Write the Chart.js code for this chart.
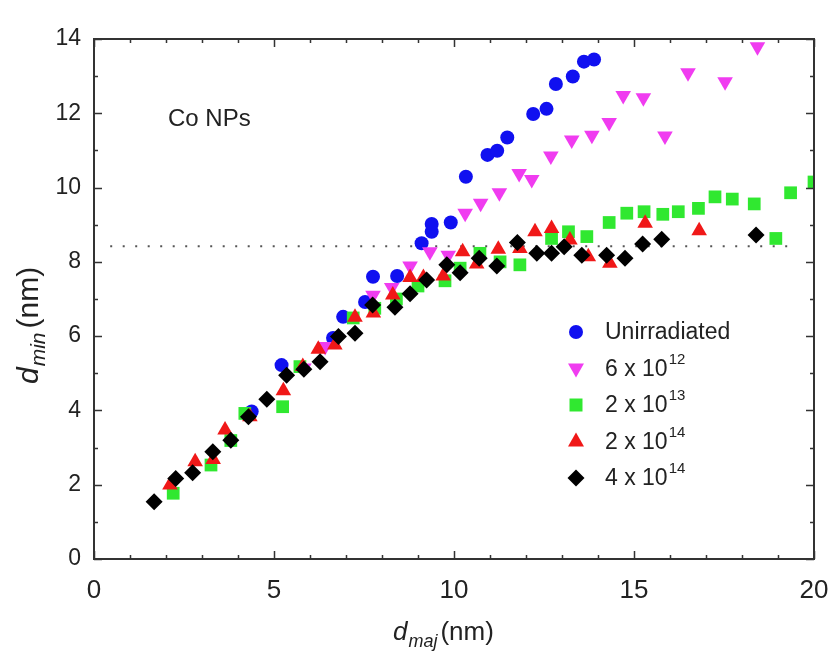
<!DOCTYPE html>
<html>
<head>
<meta charset="utf-8">
<script src="https://cdn.jsdelivr.net/npm/chart.js@4/dist/chart.umd.min.js"></script>
<style>
  body { margin: 0; background: #fff; }
  canvas { display: block; }
</style>
</head>
<body>
<canvas id="size-chart" width="829" height="667"></canvas>
<script>
// d_maj / d_min pairs (nm) for each fluence
const unirrX = [4.38, 5.21, 6.64, 6.92, 7.53, 7.75, 8.42, 9.1, 9.38, 9.38, 9.91, 10.33, 10.93, 11.2, 11.48, 12.2, 12.57, 12.83, 13.3, 13.61, 13.89];
const unirrY = [3.97, 5.22, 5.95, 6.52, 6.92, 7.6, 7.62, 8.5, 8.81, 9.02, 9.06, 10.29, 10.88, 10.99, 11.35, 11.98, 12.12, 12.79, 12.99, 13.39, 13.45];

const f6e12X = [5.83, 6.42, 7.75, 8.27, 8.78, 9.33, 9.84, 10.31, 10.74, 11.26, 11.81, 12.16, 12.69, 13.27, 13.83, 14.31, 14.7, 15.26, 15.86, 16.5, 17.53, 18.43];
const f6e12Y = [5.14, 5.72, 7.1, 7.31, 7.89, 8.27, 8.18, 9.31, 9.58, 9.86, 10.38, 10.22, 10.85, 11.28, 11.41, 11.75, 12.48, 12.42, 11.39, 13.09, 12.85, 13.79];

const f2e13X = [2.2, 3.25, 3.8, 4.19, 5.24, 5.72, 7.2, 7.8, 8.4, 9.0, 9.75, 10.17, 10.72, 11.28, 11.83, 12.71, 13.18, 13.69, 14.31, 14.8, 15.28, 15.8, 16.23, 16.79, 17.25, 17.73, 18.34, 18.94, 19.35, 20.0];
const f2e13Y = [1.77, 2.53, 3.19, 3.92, 4.1, 5.18, 6.49, 6.75, 7.0, 7.35, 7.49, 7.83, 8.23, 8.0, 7.92, 8.63, 8.81, 8.68, 9.06, 9.31, 9.35, 9.28, 9.35, 9.44, 9.75, 9.69, 9.56, 8.63, 9.86, 10.15];

const f2e14X = [2.11, 2.81, 3.31, 3.64, 4.33, 5.26, 5.8, 6.23, 6.69, 7.25, 7.76, 8.3, 8.78, 9.15, 9.7, 10.24, 10.63, 11.23, 11.83, 12.25, 12.71, 13.22, 13.73, 14.33, 15.31, 16.81];
const f2e14Y = [1.99, 2.62, 2.68, 3.47, 3.83, 4.53, 5.18, 5.65, 5.76, 6.51, 6.62, 7.11, 7.58, 7.58, 7.62, 8.27, 7.94, 8.34, 8.36, 8.81, 8.9, 8.59, 8.14, 7.96, 9.04, 8.84];

const f4e14X = [1.67, 2.27, 2.74, 3.3, 3.8, 4.29, 4.8, 5.35, 5.83, 6.28, 6.79, 7.25, 7.74, 8.36, 8.78, 9.24, 9.8, 10.17, 10.7, 11.19, 11.76, 12.3, 12.71, 13.06, 13.55, 14.24, 14.75, 15.24, 15.77, 18.39];
const f4e14Y = [1.54, 2.17, 2.32, 2.89, 3.2, 3.83, 4.3, 4.95, 5.11, 5.31, 5.99, 6.08, 6.84, 6.78, 7.14, 7.51, 7.92, 7.71, 8.1, 7.89, 8.52, 8.23, 8.23, 8.41, 8.18, 8.18, 8.1, 8.48, 8.61, 8.72];

// saturation level (dotted line)
const plateauY = 8.42;
const plateauX = [0.45, 19.4];

const seriesNames = ['Unirradiated', '6 x 10', '2 x 10', '2 x 10', '4 x 10'];
const seriesExp = ['', '12', '13', '14', '14'];

const FONT = '"Liberation Sans", Arial, sans-serif';

function pairs(xs, ys) {
    return xs.map((x, i) => ({ x: x, y: ys[i] }));
}

function markerSet(label, xs, ys, color, style, radius, order, rotation) {
    return {
        type: 'scatter',
        label: label,
        data: pairs(xs, ys),
        pointStyle: style,
        pointRadius: radius,
        pointRotation: rotation || 0,
        backgroundColor: color,
        borderColor: color,
        pointBorderWidth: 0,
        order: order,
        clip: 0
    };
}

const colors = ['#1010f0', '#f03cf0', '#30e830', '#f01818', '#000000'];

// frame, inward ticks, axis titles, text and legend
const decorPlugin = {
    id: 'decor',
    afterDatasetsDraw(chart) {
        const { ctx, chartArea: a, scales: { x, y } } = chart;
        ctx.save();
        ctx.strokeStyle = '#333';
        ctx.lineWidth = 2;
        ctx.strokeRect(a.left, a.top, a.right - a.left, a.bottom - a.top);

        ctx.lineWidth = 1.5;
        ctx.beginPath();
        for (let v = 0; v <= 20; v++) {
            const px = Math.round(x.getPixelForValue(v)) + 0.5;
            const len = v % 5 === 0 ? 8 : 4;
            ctx.moveTo(px, a.bottom); ctx.lineTo(px, a.bottom - len);
            ctx.moveTo(px, a.top); ctx.lineTo(px, a.top + len);
        }
        for (let v = 0; v <= 14; v++) {
            const py = Math.round(y.getPixelForValue(v)) + 0.5;
            const len = v % 2 === 0 ? 8 : 4;
            ctx.moveTo(a.left, py); ctx.lineTo(a.left + len, py);
            ctx.moveTo(a.right, py); ctx.lineTo(a.right - len, py);
        }
        ctx.stroke();
        ctx.restore();
    },
    afterDraw(chart) {
        const { ctx } = chart;
        ctx.save();
        ctx.fillStyle = '#222';
        ctx.textBaseline = 'alphabetic';

        // sample label
        ctx.font = '24px ' + FONT;
        ctx.fillText('Co NPs', 168, 126);

        // x title: d_maj (nm)
        let cx = 393, by = 640;
        ctx.font = 'italic 26px ' + FONT;
        ctx.fillText('d', cx, by);
        cx += ctx.measureText('d').width + 1;
        ctx.font = 'italic 18px ' + FONT;
        ctx.fillText('maj', cx, by + 7);
        cx += ctx.measureText('maj').width + 3;
        ctx.font = '26px ' + FONT;
        ctx.fillText('(nm)', cx, by);

        // y title: d_min (nm), rotated
        ctx.save();
        ctx.translate(38, 384);
        ctx.rotate(-Math.PI / 2);
        cx = 0;
        ctx.font = 'italic 30px ' + FONT;
        ctx.fillText('d', cx, 0);
        cx += ctx.measureText('d').width + 1;
        ctx.font = 'italic 21px ' + FONT;
        ctx.fillText('min', cx, 7);
        cx += ctx.measureText('min').width + 4;
        ctx.font = '30px ' + FONT;
        ctx.fillText('(nm)', cx, 0);
        ctx.restore();

        // legend
        const lx = 576, tx = 605, top = 332, step = 36.5;
        seriesNames.forEach((name, i) => {
            const ly = top + i * step;
            drawMarker(ctx, i, lx, ly, colors[i]);
            ctx.fillStyle = '#222';
            ctx.font = '23px ' + FONT;
            ctx.textBaseline = 'middle';
            ctx.fillText(name, tx, ly + 1);
            if (seriesExp[i]) {
                const w = ctx.measureText(name).width;
                ctx.font = '15px ' + FONT;
                ctx.fillText(seriesExp[i], tx + w + 1, ly - 9);
            }
        });
        ctx.restore();
    }
};

function drawMarker(ctx, i, cx, cy, color) {
    ctx.fillStyle = color;
    ctx.beginPath();
    if (i === 0) {
        ctx.arc(cx, cy, 7, 0, Math.PI * 2);
    } else if (i === 1) {
        ctx.moveTo(cx - 8, cy - 5); ctx.lineTo(cx + 8, cy - 5); ctx.lineTo(cx, cy + 9);
    } else if (i === 2) {
        ctx.rect(cx - 6.5, cy - 6.5, 13, 13);
    } else if (i === 3) {
        ctx.moveTo(cx - 8, cy + 5); ctx.lineTo(cx + 8, cy + 5); ctx.lineTo(cx, cy - 9);
    } else {
        ctx.moveTo(cx, cy - 8.5); ctx.lineTo(cx + 8.5, cy); ctx.lineTo(cx, cy + 8.5); ctx.lineTo(cx - 8.5, cy);
    }
    ctx.closePath();
    ctx.fill();
}

const sizeChart = new Chart(document.getElementById('size-chart'), {
    type: 'scatter',
    data: {
        datasets: [
            markerSet('Unirradiated', unirrX, unirrY, colors[0], 'circle', 7, 5),
            markerSet('6 x 10^12', f6e12X, f6e12Y, colors[1], 'triangle', 9, 4, 180),
            markerSet('2 x 10^13', f2e13X, f2e13Y, colors[2], 'rect', 9, 3),
            markerSet('2 x 10^14', f2e14X, f2e14Y, colors[3], 'triangle', 9, 2),
            markerSet('4 x 10^14', f4e14X, f4e14Y, colors[4], 'rectRot', 8.5, 1),
            {
                type: 'line',
                label: 'plateau',
                data: plateauX.map(x => ({ x: x, y: plateauY })),
                borderColor: '#555',
                borderWidth: 2,
                borderDash: [2, 10.5],
                pointRadius: 0,
                order: 6
            }
        ]
    },
    options: {
        responsive: false,
        animation: false,
        devicePixelRatio: 1,
        layout: { padding: { top: 39, right: 15, left: 0, bottom: 0 } },
        plugins: {
            legend: { display: false },
            tooltip: { enabled: false }
        },
        scales: {
            x: {
                type: 'linear',
                min: 0,
                max: 20,
                grid: { display: false, drawTicks: false },
                border: { display: false },
                ticks: {
                    stepSize: 5,
                    padding: 16,
                    color: '#222',
                    font: { family: FONT, size: 26 }
                },
                afterFit(scale) {
                    scale.height = 108;
                    // end labels may hang past the frame
                    scale.paddingLeft = 0;
                    scale.paddingRight = 0;
                }
            },
            y: {
                min: 0,
                max: 14,
                grid: { display: false, drawTicks: false },
                border: { display: false },
                ticks: {
                    stepSize: 2,
                    padding: 13,
                    color: '#222',
                    font: { family: FONT, size: 23 }
                },
                afterFit(scale) { scale.width = 94; }
            }
        }
    },
    plugins: [decorPlugin]
});
</script>
</body>
</html>
